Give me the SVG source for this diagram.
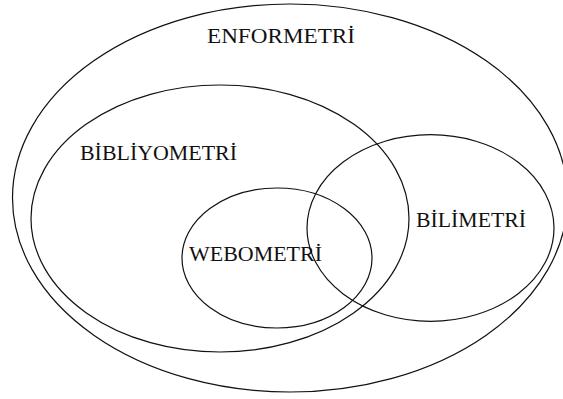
<svg xmlns="http://www.w3.org/2000/svg" width="563" height="399" viewBox="0 0 563 399">
  <style>
    .set { fill: none; stroke: #111; stroke-width: 1.2; }
    .lbl { font-family: "Liberation Serif", "Times New Roman", serif; font-size: 21px; fill: #111; }
  </style>
  <rect width="563" height="399" fill="#fff"/>
  <g id="enformetri">
    <ellipse class="set" cx="290" cy="198" rx="277.5" ry="194"/>
    <text class="lbl" x="207" y="43" textLength="148" lengthAdjust="spacingAndGlyphs">ENFORMETRİ</text>
  </g>
  <g id="bibliyometri">
    <ellipse class="set" cx="220" cy="218.5" rx="189" ry="133.5"/>
    <text class="lbl" x="80" y="160" textLength="157" lengthAdjust="spacingAndGlyphs">BİBLİYOMETRİ</text>
  </g>
  <g id="bilimetri">
    <ellipse class="set" cx="430.5" cy="228" rx="123.5" ry="93.3"/>
    <text class="lbl" x="416" y="227" textLength="110" lengthAdjust="spacingAndGlyphs">BİLİMETRİ</text>
  </g>
  <g id="webometri">
    <ellipse class="set" cx="277" cy="258" rx="95" ry="70"/>
    <text class="lbl" x="189" y="261" textLength="133" lengthAdjust="spacingAndGlyphs">WEBOMETRİ</text>
  </g>
  <g id="connectors"/>
</svg>
